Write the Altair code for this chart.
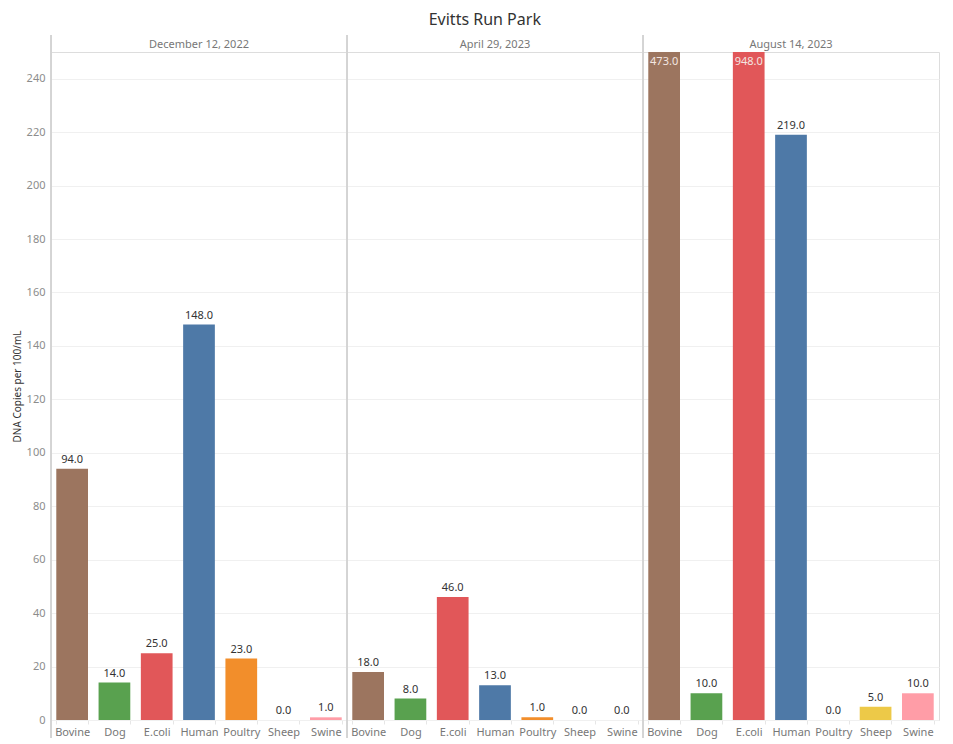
import altair as alt
import pandas as pd

dates = ["December 12, 2022", "April 29, 2023", "August 14, 2023"]
species = ["Bovine", "Dog", "E.coli", "Human", "Poultry", "Sheep", "Swine"]
dec_2022 = [94.0, 14.0, 25.0, 148.0, 23.0, 0.0, 1.0]
apr_2023 = [18.0, 8.0, 46.0, 13.0, 1.0, 0.0, 0.0]
aug_2023 = [473.0, 10.0, 948.0, 219.0, 0.0, 5.0, 10.0]
colors = ["#9c755f", "#59a14f", "#e15759", "#4e79a7", "#f28e2b", "#edc948", "#ff9da7"]

rows = []
for d, vals in zip(dates, [dec_2022, apr_2023, aug_2023]):
    for s, v in zip(species, vals):
        rows.append({"date": d, "species": s, "value": v})
df = pd.DataFrame(rows)

FONT = "Noto Sans"
W, H = 296, 668
YMAX = 250

x_enc = alt.X("species:N", sort=species, title=None,
              scale=alt.Scale(paddingInner=0.25, paddingOuter=0.125),
              axis=alt.Axis(labelAngle=0, labelColor="#777777", labelFontSize=11,
                            labelFont=FONT, domainColor="#d9d9d9", tickColor="#e6e6e6",
                            tickBand="extent", tickSize=4, labelPadding=2))
y_scale = alt.Scale(domain=[0, YMAX], clamp=True, nice=False)
y_enc = alt.Y("value:Q", scale=y_scale, title="DNA Copies per 100/mL",
              axis=alt.Axis(values=list(range(0, 241, 20)), labelColor="#8c8c8c",
                            labelFontSize=11, labelFont=FONT, domain=False, ticks=False,
                            gridColor="#f0f0f0", titleFont=FONT, titleFontSize=10,
                            titleFontWeight="normal", titleColor="#333333",
                            titlePadding=4, labelPadding=6))

bars = alt.Chart().mark_bar().encode(
    x=x_enc, y=y_enc,
    color=alt.Color("species:N", sort=species,
                    scale=alt.Scale(domain=species, range=colors), legend=None),
)

text_above = alt.Chart().transform_filter(f"datum.value <= {YMAX}").mark_text(
    baseline="bottom", dy=-4, fontSize=11, font=FONT, color="#333333"
).encode(x=alt.X("species:N", sort=species), y=alt.Y("value:Q", scale=y_scale),
         text=alt.Text("value:Q", format=".1f"))

text_inside = alt.Chart().transform_filter(f"datum.value > {YMAX}").mark_text(
    baseline="top", dy=4, fontSize=11, font=FONT, color="#f3e6e1"
).encode(x=alt.X("species:N", sort=species), y=alt.Y("value:Q", scale=y_scale),
         text=alt.Text("value:Q", format=".1f"))

divider = alt.Chart().mark_rule(color="#d4d4d4", strokeWidth=1).encode(
    x=alt.value(0), y=alt.value(-17), y2=alt.value(H + 18)
)

layered = alt.layer(bars, text_above, text_inside, divider, data=df).properties(
    width=W, height=H)

chart = layered.facet(
    column=alt.Column("date:N", sort=dates, title=None,
                      header=alt.Header(labelOrient="top", labelColor="#777777",
                                        labelFontSize=11, labelFont=FONT, labelPadding=2)),
    spacing=0,
    bounds="flush",
).properties(
    padding={"left": 4, "top": 4, "right": 0, "bottom": 0},
    title=alt.TitleParams("Evitts Run Park", fontSize=16, font=FONT, color="#333333",
                          fontWeight="normal", anchor="middle", offset=6, dx=9)
).configure_view(stroke="#eeeeee").configure_facet(spacing=0).configure(background="white")

chart.save("out.html", embed_options={"renderer": "svg", "actions": False})
